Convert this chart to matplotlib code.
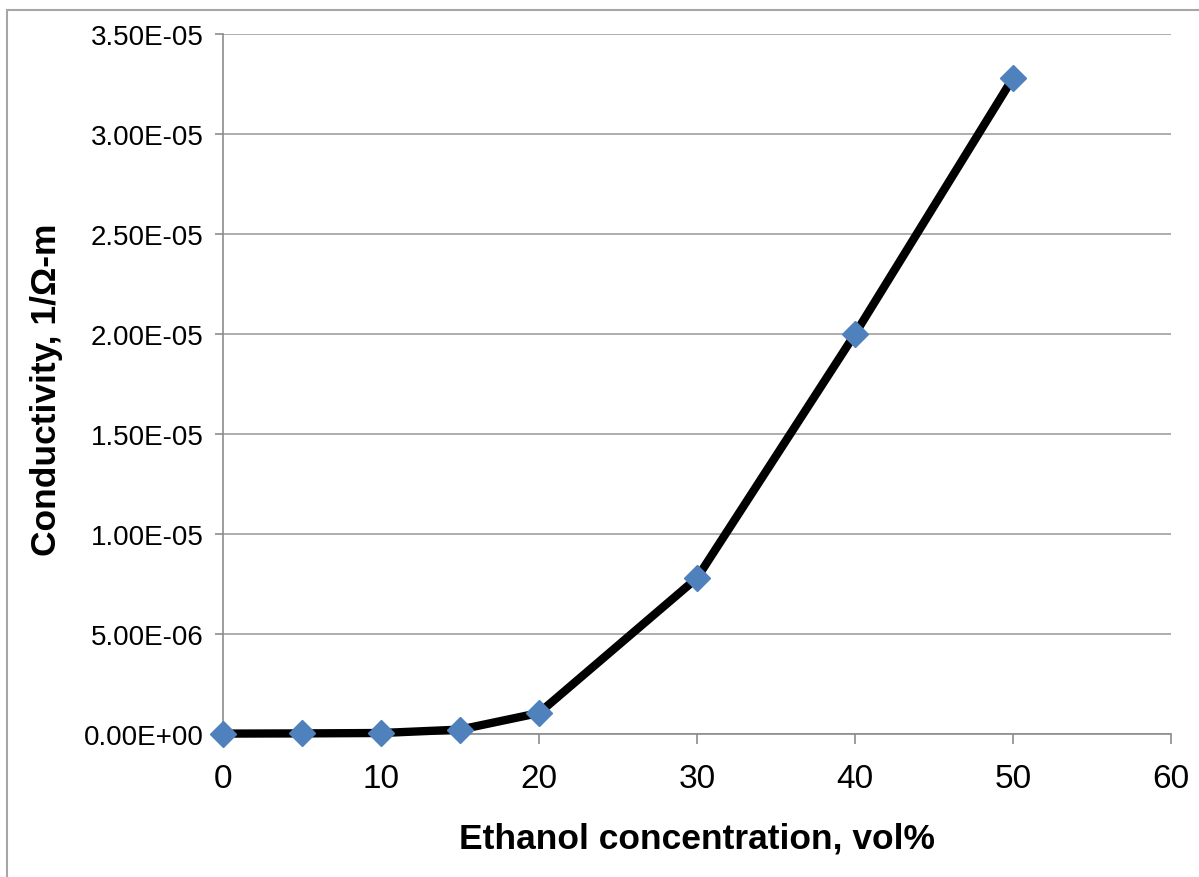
import matplotlib.pyplot as plt
from matplotlib.patches import Rectangle
from matplotlib.ticker import FormatStrFormatter

plt.rcParams['font.family'] = ['Liberation Sans', 'DejaVu Sans']

# Data
ethanol = [0, 5, 10, 15, 20, 30, 40, 50]  # vol%
conductivity = [2e-8, 3e-8, 5e-8, 2.2e-7, 1.05e-6, 7.8e-6, 2.0e-5, 3.28e-5]  # 1/Ohm-m

x_ticks = [0, 10, 20, 30, 40, 50, 60]
y_ticks = [i * 5e-6 for i in range(8)]

W, H = 1199, 878
fig = plt.figure(figsize=(W / 100, H / 100), dpi=100)
ax = fig.add_axes([223 / W, 1 - 735 / H, (1171 - 223) / W, 700 / H])

# outer chart frame (only left and top edges visible)
fig.patches.append(Rectangle((7 / W, -0.1), 1.2, 1 - 11 / H + 0.1, transform=fig.transFigure,
                             fill=False, edgecolor='#a6a6a6', linewidth=1.5))

ax.plot(ethanol, conductivity, color='black', linewidth=6, zorder=3, clip_on=False,
        marker='D', markersize=13, markerfacecolor='#4f81bd', markeredgecolor='#4f81bd')

ax.set_xlim(0, 60)
ax.set_ylim(0, 3.5e-5)
ax.set_xticks(x_ticks)
ax.set_yticks(y_ticks)
ax.yaxis.set_major_formatter(FormatStrFormatter('%.2E'))
ax.grid(axis='y', color='#a0a0a0', linewidth=1.2)
ax.set_axisbelow(True)

for side in ['top', 'right']:
    ax.spines[side].set_visible(False)
for side in ['left', 'bottom']:
    ax.spines[side].set_color('#8c8c8c')
    ax.spines[side].set_linewidth(1.2)

ax.tick_params(axis='x', direction='out', length=7, color='#8c8c8c', width=1.2,
               labelsize=24, pad=14)
ax.tick_params(axis='y', direction='out', length=6, color='#8c8c8c', width=1.2,
               labelsize=20, pad=8)

ax.set_xlabel('Ethanol concentration, vol%', fontsize=25.5, fontweight='bold')
ax.set_ylabel('Conductivity, 1/Ω-m', fontsize=25.5, fontweight='bold')
ax.xaxis.set_label_coords(0.5, -0.125)
ax.yaxis.set_label_coords(-0.169, 0.493)

fig.savefig('out.png', dpi=100)
